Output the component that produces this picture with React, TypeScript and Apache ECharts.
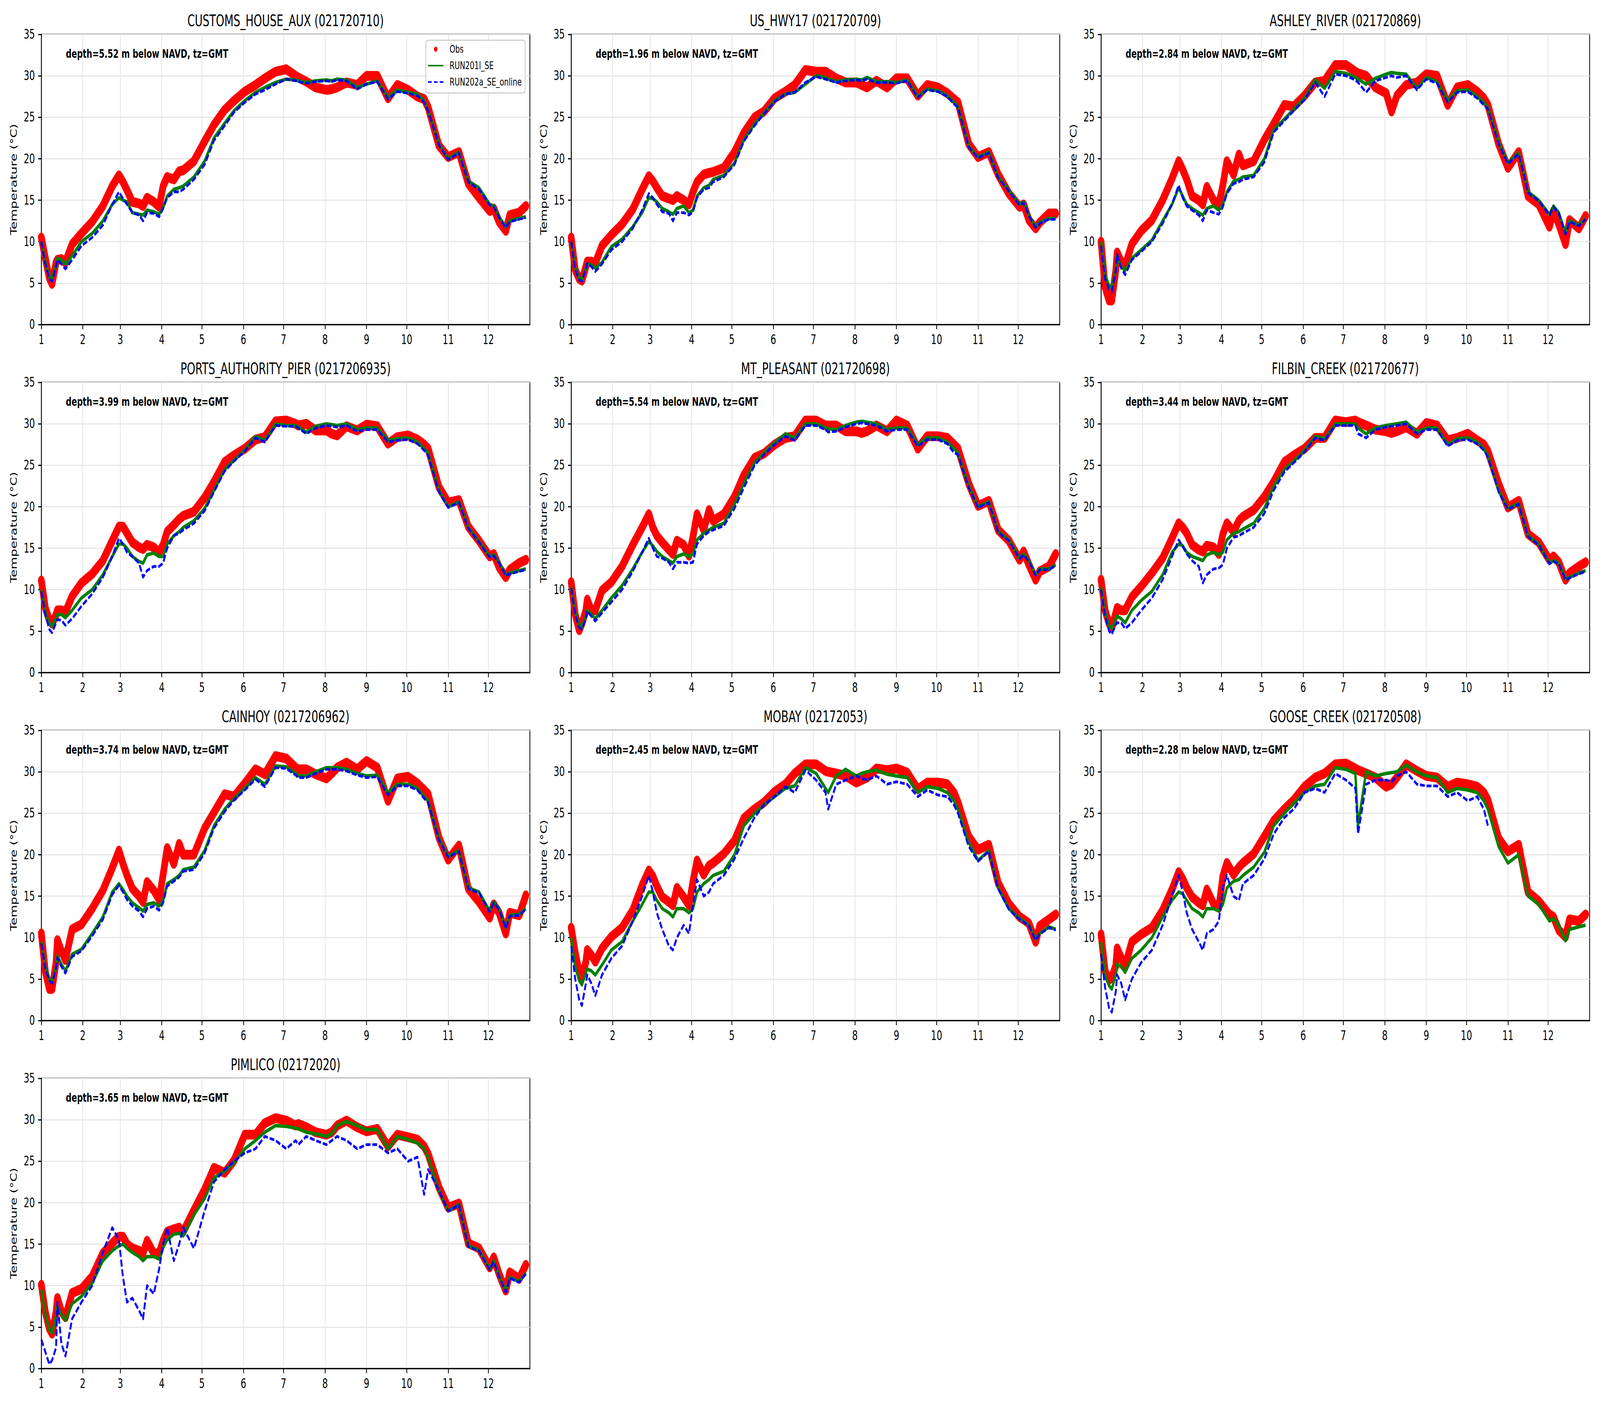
import React, { useEffect, useRef } from "react";
import * as echarts from "echarts";

// Sample positions (day of year, 0 = 1 Jan) shared by every series
const DAY = [0, 3, 6, 8, 11, 12, 15, 18, 23, 30,
  38, 46, 53, 58, 61, 64, 68, 73, 76, 79,
  84, 88, 91, 94, 99, 103, 106, 114, 122, 129,
  137, 144, 152, 160, 167, 175, 183, 190, 192, 198,
  205, 213, 217, 221, 228, 236, 243, 251, 259, 266,
  274, 281, 286, 289, 297, 304, 312, 319, 327, 335,
  338, 342, 347, 350, 357, 362];

// Month tick positions (first day of each month) and labels
const MONTH_START = [0, 31, 59, 90, 120, 151, 181, 212, 243, 273, 304, 334];
const MONTH_LABEL = ["1", "2", "3", "4", "5", "6", "7", "8", "9", "10", "11", "12"];

const STATIONS = [
  "CUSTOMS_HOUSE_AUX (021720710)", "US_HWY17 (021720709)", "ASHLEY_RIVER (021720869)",
  "PORTS_AUTHORITY_PIER (0217206935)", "MT_PLEASANT (021720698)", "FILBIN_CREEK (021720677)",
  "CAINHOY (0217206962)", "MOBAY (02172053)", "GOOSE_CREEK (021720508)", "PIMLICO (02172020)",
];
const DEPTHS = ["5.52", "1.96", "2.84", "3.99", "5.54", "3.44", "3.74", "2.45", "2.28", "3.65"];
const SERIES_NAMES = ["Obs", "RUN201l_SE", "RUN202a_SE_online"];

// ---------- CUSTOMS_HOUSE_AUX ----------
const obsCustoms = [10.5, 8, 5.6, 4.9, 7.5, 7.8, 7.9, 7.5, 9.7, 11,
  12.4, 14.3, 16.7, 18, 17.2, 16.2, 14.8, 14.6, 14.3, 15.3,
  14.8, 14.2, 16.7, 17.8, 17.5, 18.5, 18.6, 19.7, 22.1, 24.1,
  25.9, 27, 28.1, 28.9, 29.7, 30.5, 30.8, 30, 29.8, 29.3,
  28.6, 28.3, 28.4, 28.6, 29.2, 28.9, 30, 30, 27.3, 28.9,
  28.3, 27.5, 27.2, 26.2, 21.6, 20.2, 20.8, 17, 15.3, 13.7,
  14, 12.4, 11.3, 13.2, 13.5, 14.3];
const r201Customs = [10, 7.5, 5.8, 5.5, 7.3, 8, 7.8, 7.3, 8.3, 10,
  11, 12.5, 14.5, 15.3, 15, 14.8, 13.5, 13.3, 13.2, 13.8,
  13.6, 13.3, 14.1, 15.5, 16.3, 16.5, 16.7, 17.8, 19.7, 22.5,
  24.3, 25.8, 27, 28, 28.6, 29.2, 29.6, 29.5, 29.4, 29.2,
  29.4, 29.5, 29.4, 29.6, 29.5, 28.6, 29, 29.4, 27.4, 28.3,
  28, 27.8, 27, 25.8, 21.8, 20, 20.8, 17.3, 16.5, 14.5,
  14.3, 13, 11.8, 12.5, 12.8, 13];
const r202Customs = [10, 7.3, 5.5, 5.2, 7, 7.8, 7.3, 6.7, 7.8, 9.5,
  10.5, 12, 14.5, 16, 15.2, 14.5, 13.5, 13.2, 12.5, 13.5,
  13.4, 13, 14, 15.3, 16, 16, 16.3, 17.5, 19.3, 22.2,
  24, 25.6, 26.8, 27.8, 28.3, 29, 29.6, 29.4, 29.3, 29.1,
  29.3, 29.4, 29.3, 29.5, 29.4, 28.4, 29, 29.3, 27.2, 28.1,
  27.9, 27.6, 26.8, 25.8, 21.7, 19.9, 20.7, 17.2, 16.3, 14.4,
  14.2, 12.9, 11.7, 12.4, 12.7, 12.9];

// ---------- US_HWY17 ----------
const obsHwy17 = [10.5, 6.6, 5.5, 5.3, 7, 7.6, 7.6, 7.4, 9.5, 10.8,
  12.1, 13.9, 16.3, 17.9, 17.3, 16.5, 15.5, 15.2, 15, 15.5,
  15, 14.5, 16, 17.2, 18.1, 18.3, 18.4, 18.9, 20.8, 23.1,
  25, 25.7, 27.3, 28.1, 28.9, 30.7, 30.5, 30.5, 30.3, 29.7,
  29.2, 29.2, 28.9, 28.6, 29.4, 28.6, 29.7, 29.7, 27.6, 28.9,
  28.6, 27.9, 27.2, 26.8, 21.8, 20.2, 20.8, 18.1, 15.8, 14.2,
  14.5, 12.6, 11.6, 12.3, 13.4, 13.4];
const r201Hwy17 = [10, 6.8, 5.6, 5.4, 6.8, 7.3, 7.2, 6.8, 7.5, 9.4,
  10.3, 11.8, 13.5, 15.3, 15.2, 14.8, 14, 13.6, 13.3, 14,
  14.3, 13.5, 13.8, 15.5, 16.5, 16.8, 17.5, 18, 19.5, 22.3,
  24.2, 25.5, 27, 27.8, 28, 29, 30, 29.8, 29.6, 29.3,
  29.5, 29.6, 29.5, 29.8, 29.3, 29.3, 29.2, 29.5, 27.5, 28.4,
  28.2, 27.6, 26.8, 26.3, 21.5, 20.2, 20.8, 17.8, 16.2, 14.5,
  14.8, 13.2, 11.8, 12.3, 12.8, 12.8];
const r202Hwy17 = [10, 6.6, 5.4, 5.2, 6.8, 7.4, 7, 6.4, 7.3, 9,
  10, 11.6, 13.8, 15.8, 15.3, 14.5, 13.6, 13.4, 12.5, 13.5,
  13.5, 13.2, 13.6, 15.3, 16.3, 16.5, 17.2, 17.8, 19.3, 22.1,
  24, 25.4, 26.9, 27.8, 28, 29.2, 29.9, 29.6, 29.5, 29.2,
  29.4, 29.5, 29.4, 29.6, 29.2, 29.2, 29.1, 29.4, 27.4, 28.3,
  28.1, 27.5, 26.6, 26.2, 21.4, 20.1, 20.7, 17.7, 16.1, 14.4,
  14.7, 13.1, 11.7, 12.2, 12.7, 12.7];

// ---------- ASHLEY_RIVER ----------
const obsAshley = [10, 4.5, 2.9, 2.9, 6.5, 8.7, 7.6, 7.1, 9.7, 11.3,
  12.6, 15, 17.6, 19.7, 18.7, 17.5, 15.5, 15, 14.5, 16.6,
  15, 14.5, 16.8, 19.7, 18.1, 20.5, 19.2, 19.7, 22.3, 24.2,
  26.5, 26.3, 27.6, 29.2, 29.4, 31.3, 31.3, 30.5, 30.3, 30,
  28.6, 27.9, 25.7, 27.6, 28.9, 29.2, 30.2, 30, 26.5, 28.6,
  28.9, 28.1, 27.3, 26.5, 21.8, 18.9, 20.8, 15.5, 14.5, 11.8,
  13.7, 12.1, 9.7, 12.6, 11.6, 13.1];
const r201Ashley = [10, 6, 4.7, 4.5, 6.5, 8.2, 7, 6.5, 8, 9,
  10.2, 12.5, 14.5, 16.5, 15.5, 14.5, 14, 13.5, 13.2, 14,
  14.3, 13.8, 14.5, 16, 17.3, 17.5, 17.8, 18, 20, 23.5,
  24.8, 26, 27.3, 29.5, 28.5, 30.5, 30.3, 29.8, 29.6, 29,
  29.7, 30.2, 30.4, 30.3, 30.2, 28.5, 29.8, 29.3, 27, 28.2,
  28.3, 27.5, 26.8, 26.2, 22, 19.5, 20.7, 16, 15, 13.3,
  14.3, 13.5, 11, 12.5, 12, 12.8];
const r202Ashley = [9.5, 5.5, 4.3, 4, 6.5, 8.5, 6.8, 6, 7.8, 8.8,
  10, 12.2, 14.5, 16.8, 15.3, 14.3, 13.8, 13.2, 12.5, 13.8,
  13.5, 13.3, 14.2, 15.8, 17, 17.2, 17.5, 17.8, 19.6, 23.2,
  24.6, 25.8, 27.1, 29.2, 27.5, 30.2, 30, 29.5, 29.2, 28,
  29.4, 29.8, 30, 29.8, 30, 28.3, 29.6, 29.1, 26.8, 28,
  28.1, 27.3, 26.5, 26, 21.8, 19.4, 20.6, 15.9, 14.9, 13.2,
  14.2, 13.4, 10.9, 12.4, 11.9, 12.7];

// ---------- PORTS_AUTHORITY_PIER ----------
const obsPorts = [11.1, 7.8, 6.3, 5.9, 7, 7.5, 7.5, 7.3, 9.2, 10.8,
  11.9, 13.5, 15.9, 17.6, 17.6, 16.8, 15.7, 15.1, 14.9, 15.4,
  15.1, 14.5, 15.4, 17, 17.8, 18.5, 18.9, 19.4, 21.1, 23,
  25.4, 26.2, 27, 28.1, 28.4, 30.3, 30.4, 30, 29.8, 30,
  29.2, 29.2, 28.8, 28.6, 29.7, 29.2, 29.9, 29.7, 27.6, 28.4,
  28.6, 28.1, 27.5, 27, 22.4, 20.5, 20.8, 17.6, 15.9, 14,
  14.3, 12.7, 11.5, 12.4, 13.2, 13.6];
const r201Ports = [10, 7.3, 5.9, 5.6, 6.5, 7, 7, 6.6, 7.5, 9,
  10, 11.8, 14, 15.5, 15.5, 15, 14, 13.4, 13.2, 14.2,
  14.4, 14, 14, 15.5, 16.5, 17, 17.5, 18.3, 19.8, 22,
  24.5, 25.6, 26.8, 28.5, 28, 30, 29.8, 29.8, 29.6, 29,
  29.7, 30, 29.9, 29.8, 30, 29.3, 29.5, 29.5, 28, 28.2,
  28.3, 27.8, 27, 26.5, 22, 20, 20.6, 17.5, 15.8, 14,
  14.2, 13.3, 11.8, 12, 12.3, 12.5];
const r202Ports = [9.8, 7, 5.2, 4.8, 6, 6.4, 6.3, 5.7, 6.5, 8,
  9.5, 11.5, 14, 16.2, 15.5, 14.5, 14, 13.2, 11.5, 12.3,
  12.8, 12.8, 13.2, 15, 16.5, 16.8, 17.2, 18, 19.5, 21.8,
  24.3, 25.5, 26.7, 28.3, 27.8, 29.8, 29.7, 29.7, 29.5, 28.8,
  29.5, 29.8, 29.7, 29.6, 29.8, 29.1, 29.3, 29.3, 27.8, 28,
  28.1, 27.6, 26.8, 26.2, 21.8, 19.9, 20.5, 17.4, 15.7, 13.9,
  14.1, 13.2, 11.7, 11.9, 12.2, 12.4];

// ---------- MT_PLEASANT ----------
const obsPleasant = [10.9, 7, 5.1, 5.9, 7.5, 8.8, 7.5, 7.5, 9.9, 10.9,
  12.8, 15.4, 17.5, 19.1, 17.5, 16.5, 15.7, 14.8, 14.3, 15.9,
  15.4, 14.1, 16.4, 19.1, 17.2, 19.6, 18.3, 19.1, 21.2, 23.8,
  25.9, 26.4, 27.5, 28.3, 28.5, 30.4, 30.4, 29.8, 29.8, 29.8,
  29.1, 29.1, 28.9, 29.1, 29.8, 29.1, 30.4, 29.8, 27, 28.5,
  28.5, 28.3, 27.5, 27, 22.8, 20.1, 20.7, 17.2, 15.9, 13.6,
  14.6, 13, 11.2, 12.2, 12.8, 14.3];
const r201Pleasant = [10.3, 7.2, 5.8, 5.5, 6.8, 7.5, 7, 6.5, 7.5, 9,
  10.5, 12.5, 14.5, 15.8, 15.3, 14.6, 14, 13.5, 13.2, 14,
  14.3, 14, 14.3, 16, 16.8, 17.2, 17.5, 18, 20.3, 22.8,
  25.3, 26.5, 27.7, 28.8, 28.3, 30, 30, 29.5, 29.4, 29.3,
  29.8, 30.2, 30.3, 30.2, 30, 29.3, 29.5, 29.5, 27.5, 28.3,
  28.3, 27.8, 27, 26.5, 22.5, 20, 20.6, 17, 16, 13.8,
  14.3, 13.5, 11.8, 12.5, 12.5, 13];
const r202Pleasant = [10.2, 7, 5.4, 5.2, 6.6, 7.4, 6.8, 6.2, 7.2, 8.5,
  10, 12.2, 14.5, 16.2, 15, 14, 13.8, 13.3, 12.5, 13.3,
  13.3, 13.2, 13.3, 15.5, 16.5, 17, 17.2, 17.7, 19.8, 22.3,
  25, 26.3, 27.5, 28.5, 28, 29.8, 29.8, 29.3, 29, 29.1,
  29.6, 30, 30.1, 30, 29.8, 29.1, 29.3, 29.3, 27.3, 28.1,
  28.1, 27.6, 26.5, 26.3, 22.3, 19.9, 20.5, 16.9, 15.9, 13.7,
  14.2, 13.4, 11.7, 12.4, 12.4, 12.9];

// ---------- FILBIN_CREEK ----------
const obsFilbin = [11.2, 7.5, 5.9, 5.4, 7.2, 7.8, 7.5, 7.5, 9.1, 10.4,
  12, 13.8, 16.2, 18, 17.5, 16.8, 15.4, 14.8, 14.6, 15.3,
  15.1, 14.3, 16.7, 18, 17, 18.3, 18.8, 19.6, 21.2, 23,
  25.4, 26.2, 27, 28.3, 28.3, 30.4, 30.2, 30.4, 30.2, 29.8,
  29.3, 29.1, 28.9, 29.1, 29.6, 28.8, 30.1, 29.8, 28, 28.3,
  28.8, 28, 27.5, 26.7, 22.8, 19.9, 20.7, 16.7, 15.7, 13.6,
  14, 13.3, 11.2, 12, 12.8, 13.3];
const r201Filbin = [10.3, 7.3, 5.6, 5.3, 6.5, 6.8, 6.5, 6, 7.5, 8.7,
  9.8, 11.8, 14.5, 15.5, 15.3, 14.5, 14, 13.7, 13.5, 14.2,
  14.5, 14.2, 14.5, 16, 16.8, 17, 17.3, 18, 19.8, 22.5,
  24.5, 25.5, 26.8, 28.5, 28.2, 30, 30, 30, 29.5, 28.8,
  29.5, 29.8, 29.9, 30, 30.2, 29, 29.5, 29.5, 27.5, 28.2,
  28.3, 27.8, 27, 26.2, 22, 19.8, 20.4, 16.5, 15.5, 13.2,
  13.5, 13.2, 11.3, 11.5, 12, 12.3];
const r202Filbin = [10, 6.8, 5, 4.6, 5.8, 6, 6, 5.3, 6, 7.5,
  9, 11.2, 14, 16, 15.2, 14.3, 13.5, 12.8, 10.8, 11.8,
  12.5, 12.6, 13, 15, 16.3, 16.5, 16.8, 17.5, 19.2, 22,
  24.2, 25.3, 26.6, 28.3, 28, 29.8, 29.8, 29.8, 28.8, 28.3,
  29.3, 29.6, 29.7, 29.8, 30, 28.8, 29.3, 29.3, 27.3, 28,
  28.1, 27.6, 26.8, 26, 21.8, 19.7, 20.3, 16.4, 15.4, 13.1,
  13.4, 13.1, 11.2, 11.4, 11.9, 12.2];

// ---------- CAINHOY ----------
const obsCainhoy = [10.5, 5.9, 3.8, 3.8, 7, 9.7, 8.4, 7.3, 11, 11.6,
  13.5, 15.7, 18.4, 20.5, 18.9, 17.5, 15.9, 15, 14.3, 16.7,
  15.7, 14.6, 17.6, 20.8, 18.9, 21.3, 20, 20, 23.2, 25.1,
  27.3, 27, 28.6, 30.3, 29.7, 31.9, 31.6, 30.5, 30.3, 30.3,
  29.7, 29.2, 29.8, 30.5, 31.1, 30.3, 31.3, 30.5, 26.5, 29.2,
  29.4, 28.6, 27.8, 27.3, 22.1, 19.4, 21.1, 15.9, 14.3, 12.4,
  14, 13, 10.5, 13, 12.7, 15.1];
const r201Cainhoy = [9.5, 6.5, 5, 4.6, 6.5, 7.8, 6.8, 6, 8, 8.6,
  10.5, 12.5, 15.5, 16.5, 15.8, 15, 14.2, 13.6, 13.2, 14,
  14.2, 13.8, 14.5, 16.5, 17, 17.5, 18.2, 18.5, 20.5, 23.5,
  25.5, 26.8, 28, 29.3, 28.5, 30.7, 30.6, 29.8, 29.5, 29.5,
  30, 30.5, 30.5, 30.5, 30.3, 29.8, 29.5, 29.6, 27.5, 28.5,
  28.5, 28, 27, 26.5, 22, 19.8, 20.5, 16, 15.5, 13.2,
  14.3, 13.5, 11.2, 12.7, 12.8, 13.5];
const r202Cainhoy = [9.3, 6.2, 4.8, 4.5, 6.3, 7.6, 6.5, 5.7, 7.7, 8.4,
  10.2, 12.2, 15.2, 16.3, 15.5, 14.6, 13.8, 13.2, 12.5, 13.5,
  13.8, 13.3, 14.2, 16.2, 16.8, 17.3, 18, 18.2, 20.2, 23.2,
  25.2, 26.6, 27.8, 29.1, 28.2, 30.5, 30.4, 29.6, 29.3, 29.3,
  29.8, 30.3, 30.3, 30.3, 30.1, 29.6, 29.3, 29.4, 27.2, 28.3,
  28.3, 27.8, 26.8, 26.3, 21.8, 19.7, 20.4, 15.9, 15.4, 13.1,
  14.2, 13.4, 11.1, 12.6, 12.7, 13.4];

// ---------- MOBAY ----------
const obsMobay = [11.2, 8.2, 5.8, 5.2, 7.1, 8.5, 7.9, 7.1, 8.7, 10.1,
  11.2, 13.3, 16.3, 18.1, 17.4, 16.2, 14.9, 14.3, 13.9, 16,
  14.9, 13.9, 16.8, 19.3, 17.6, 18.7, 19, 20.1, 21.7, 24.4,
  25.5, 26.3, 27.6, 28.5, 29.8, 30.9, 30.9, 30.1, 30, 29.8,
  29.5, 28.7, 29, 29.3, 30.4, 30.2, 30.4, 29.9, 27.9, 28.7,
  28.7, 28.5, 27.5, 26.3, 22.2, 20.6, 21.2, 16.6, 14.1, 12.5,
  12.2, 11.7, 9.5, 11.4, 12.2, 12.8];
const r201Mobay = [10, 6.5, 4.8, 4.3, 5.8, 6.2, 6, 5.5, 6.7, 8.5,
  9.5, 12, 14, 15.5, 15.5, 14.5, 13.5, 13, 12.5, 13.5,
  13.5, 13, 13.5, 15.5, 16.5, 17, 17.5, 18, 20, 23.5,
  25, 26, 27, 28, 28.3, 30.5, 29.8, 28, 27.5, 29.5,
  30.3, 29.5, 29.8, 30, 30.2, 29.7, 29.5, 29.3, 27.5, 28.2,
  28, 27.5, 26.5, 25.5, 21.5, 19.3, 20.5, 16, 13.5, 12.3,
  12, 11.5, 9.8, 10.5, 11.3, 11];
const r202Mobay = [9, 5, 2.5, 1.8, 4.5, 5.5, 4.5, 3, 5.5, 7.5,
  9, 12, 15, 17.5, 15.5, 13, 11, 9, 8.5, 10,
  11.5, 10.5, 14, 17, 15, 15.5, 16.5, 17.5, 19.5, 22,
  24.5, 26, 27, 28.2, 27.5, 30.2, 29, 27.5, 25.5, 28.5,
  29, 29.5, 29.2, 29, 29.5, 28.5, 28.8, 28.5, 27, 27.8,
  27.2, 27, 26, 25, 21, 19.2, 20.4, 15.9, 13.4, 12.2,
  11.9, 11.4, 9.7, 10.4, 11.2, 10.9];

// ---------- GOOSE_CREEK ----------
const obsGoose = [10.4, 6, 4.9, 5.2, 6.6, 8.7, 7.6, 6.6, 9.5, 10.4,
  11.2, 13.3, 15.8, 17.9, 17.1, 16, 14.9, 14.2, 13.9, 15.8,
  14.1, 13.6, 17.4, 19, 17.6, 18.5, 19, 20.1, 22.2, 24.1,
  25.5, 26.6, 28.2, 29.3, 29.8, 30.9, 31, 30.4, 30.2, 29.8,
  29.3, 28.2, 28.5, 29.3, 30.9, 30.1, 29.5, 29.3, 28.2, 28.7,
  28.5, 28.2, 27.5, 26.6, 22, 20.4, 21.2, 15.5, 14.4, 12.8,
  12.5, 10.9, 10.1, 12.2, 12, 12.8];
const r201Goose = [9.5, 5.5, 4.2, 3.8, 5.5, 6.8, 6.5, 5.8, 7.5, 8.5,
  10, 12.5, 14.5, 15.5, 15.3, 14.5, 13.5, 13, 12.5, 13.5,
  13.5, 13.2, 14, 16, 16.8, 17, 17.5, 18.5, 20.3, 23.5,
  25, 26.2, 27.5, 28.3, 28.5, 30.5, 30.3, 29.8, 23.5, 30,
  29.5, 29.8, 29.9, 30, 30.8, 30, 29.5, 29.3, 27.5, 28,
  27.8, 27.5, 26.5, 25.5, 21, 19, 20, 15, 14, 12,
  12.3, 11.5, 9.6, 11, 11.3, 11.5];
const r202Goose = [8, 4, 1.5, 1, 3.5, 5.5, 4.5, 2.5, 5, 7,
  8.5, 11.5, 15, 17.5, 15.5, 13, 11, 9.5, 8.5, 10.5,
  11, 12, 16, 17.5, 15, 14.5, 16.5, 17.5, 19.5, 22.5,
  24.5, 25.5, 27.5, 28, 27.5, 29.8, 29, 28, 22.5, 28.5,
  29, 29, 28.8, 29.5, 30, 28.5, 28.3, 28.3, 27, 27.5,
  26.5, 27, 25.5, 23.5, null, null, null, null, null, null,
  null, null, null, null, null, null];

// ---------- PIMLICO ----------
const obsPimlico = [10.1, 6.8, 4.8, 4.2, 6.8, 8.5, 6.9, 6.2, 9.1, 9.6,
  11.1, 13.9, 15.1, 15.9, 15.9, 15, 14.5, 14.2, 13.9, 15.4,
  13.9, 13.9, 15.4, 16.5, 16.8, 17, 16.5, 19.1, 21.6, 24.2,
  23.6, 25.1, 28.2, 28.2, 29.6, 30.2, 29.9, 29.3, 29.5, 29.1,
  28.5, 28.2, 28.5, 29.3, 29.9, 29.1, 28.6, 28.9, 26.8, 28.2,
  27.9, 27.6, 26.8, 25.9, 21.9, 19.4, 19.9, 15.1, 14.5, 12.2,
  13.4, 11.4, 9.4, 11.6, 10.8, 12.5];
const r201Pimlico = [9.5, 6.5, 4.7, 4.3, 6.3, 7.5, 6.5, 5.8, 7.8, 8.7,
  10.3, 13, 14.2, 14.8, 15, 14.5, 14, 13.5, 13, 13.5,
  13.5, 13.2, 14.6, 15.5, 16.2, 16.3, 16, 18.5, 20.5, 23,
  23.8, 24.8, 26.5, 27.5, 28.5, 29.3, 29.2, 29, 28.9, 28.5,
  28.3, 28, 28.3, 29.3, 29.8, 29.3, 28.8, 28.8, 26.5, 28,
  27.6, 27.2, 26.5, 25.5, 21.5, 19, 19.8, 14.8, 14.3, 12,
  13, 11.2, 9.3, 11, 10.5, 11.5];
const r202Pimlico = [3.5, 2, 0.5, 1, 2.5, 8, 3, 1.5, 6, 8,
  10, 14, 17, 15.5, 11, 8, 8.5, 7, 6, 10,
  9, 12, 15, 17, 13, 15, 17, 14.5, 19, 22.5,
  24, 25, 26, 26.5, 28, 27.5, 26.5, 27.5, 27, 28,
  27.5, 27, 27.5, 28, 27.5, 26.5, 27, 27, 26, 26.5,
  25, 25.5, 21, 24, 21.5, 19, 19.7, 14.7, 14.2, 11.9,
  12.9, 11.1, 9.2, 10.9, 10.4, 11.4];

const OBS = [obsCustoms, obsHwy17, obsAshley, obsPorts, obsPleasant, obsFilbin, obsCainhoy, obsMobay, obsGoose, obsPimlico];
const RUN201 = [r201Customs, r201Hwy17, r201Ashley, r201Ports, r201Pleasant, r201Filbin, r201Cainhoy, r201Mobay, r201Goose, r201Pimlico];
const RUN202 = [r202Customs, r202Hwy17, r202Ashley, r202Ports, r202Pleasant, r202Filbin, r202Cainhoy, r202Mobay, r202Goose, r202Pimlico];

// Layout (pixels, in the 6000 x 3600 design frame)
const W = 6000;
const H = 3600;
const COL_LEFT = [155, 2142, 4129];
const ROW_TOP = [88, 979, 1870, 2761];
const GRID_W = 1832;
const GRID_H = 743;
const FONT = "DejaVu Sans";

function buildOption() {
  const grid: any[] = [];
  const xAxis: any[] = [];
  const yAxis: any[] = [];
  const series: any[] = [];
  const graphic: any[] = [];

  STATIONS.forEach((title, i) => {
    const left = COL_LEFT[i % 3];
    const top = ROW_TOP[Math.floor(i / 3)];
    grid.push({
      left, top, width: GRID_W, height: GRID_H,
      show: true, borderColor: "#000", borderWidth: 3, backgroundColor: "#fff",
    });
    xAxis.push({
      type: "value", gridIndex: i, min: 0, max: 365,
      axisLine: { show: true, onZero: false, lineStyle: { color: "#000", width: 3 } },
      axisTick: { show: true, length: 12, lineStyle: { color: "#000", width: 3 }, customValues: MONTH_START },
      axisLabel: {
        customValues: MONTH_START, margin: 22, fontSize: 33, fontFamily: FONT, color: "#000",
        formatter: (v: number) => MONTH_LABEL[MONTH_START.indexOf(Math.round(v))] ?? "",
      },
      splitLine: { show: true, lineStyle: { color: "#e6e6e6", width: 3 } },
    });
    yAxis.push({
      type: "value", gridIndex: i, min: 0, max: 35, interval: 5,
      name: "Temperature (°C)", nameLocation: "middle", nameGap: 86,
      nameTextStyle: { fontSize: 33, fontFamily: FONT, color: "#000" },
      axisLine: { show: true, onZero: false, lineStyle: { color: "#000", width: 3 } },
      axisTick: { show: true, length: 12, lineStyle: { color: "#000", width: 3 } },
      axisLabel: { margin: 24, fontSize: 33, fontFamily: FONT, color: "#000" },
      splitLine: { show: true, lineStyle: { color: "#e6e6e6", width: 3 } },
    });
    const toPts = (arr: (number | null)[]) => DAY.map((d, k) => [d, arr[k]]);
    series.push({
      type: "line", name: SERIES_NAMES[0], xAxisIndex: i, yAxisIndex: i,
      data: toPts(OBS[i]), symbol: "none", showSymbol: false, connectNulls: true,
      color: "#ff0000", itemStyle: { color: "#ff0000" },
      lineStyle: { color: "#ff0000", width: 25, cap: "round", join: "round" }, z: 2,
    });
    series.push({
      type: "line", name: SERIES_NAMES[1], xAxisIndex: i, yAxisIndex: i,
      data: toPts(RUN201[i]), symbol: "none", showSymbol: false, connectNulls: true,
      color: "#008000", itemStyle: { color: "#008000" },
      lineStyle: { color: "#008000", width: 9, join: "round" }, z: 3,
    });
    series.push({
      type: "line", name: SERIES_NAMES[2], xAxisIndex: i, yAxisIndex: i,
      data: toPts(RUN202[i]), symbol: "none", showSymbol: false, connectNulls: false,
      color: "#0000ff", itemStyle: { color: "#0000ff" },
      lineStyle: { color: "#0000ff", width: 7, type: [18, 7], join: "round" }, z: 4,
    });
    graphic.push({
      type: "text", x: left + GRID_W / 2, y: top - 35, z: 10,
      style: { text: title, fontSize: 40, fontFamily: FONT, fill: "#000", align: "center", verticalAlign: "middle" },
    });
    graphic.push({
      type: "text", x: left + 92, y: top + 49, z: 10,
      style: {
        text: `depth=${DEPTHS[i]} m below NAVD, tz=GMT`, fontSize: 30, fontWeight: "bold",
        fontFamily: FONT, fill: "#000", align: "left", verticalAlign: "middle",
      },
    });
  });

  return {
    animation: false,
    backgroundColor: "#fff",
    grid, xAxis, yAxis, series, graphic,
    legend: {
      left: 1597, top: 103, orient: "vertical", selectedMode: false,
      data: [
        { name: "Obs", icon: "circle" },
        { name: "RUN201l_SE", icon: "path://M0,0H58V4H0Z" },
        { name: "RUN202a_SE_online", icon: "path://M0,0H13V4H0Z M21,0H34V4H21Z M42,0H55V4H42Z" },
      ],
      itemWidth: 58, itemHeight: 13, itemGap: 12,
      padding: [8, 13, 13, 8],
      backgroundColor: "rgba(255,255,255,0.8)", borderColor: "#cccccc", borderWidth: 3, borderRadius: 8,
      itemStyle: { borderWidth: 0 },
      textStyle: { fontSize: 27, fontFamily: FONT, color: "#000", lineHeight: 30, padding: [0, 0, 0, 18] },
      z: 20,
    },
  };
}

export default function App() {
  const ref = useRef<HTMLDivElement>(null);
  // The browser viewport may be narrower than the 6000 px design frame; fit the frame to it.
  const sx = typeof window !== "undefined" && window.innerWidth ? Math.min(1, window.innerWidth / W) : 1;
  const sy = typeof window !== "undefined" && window.innerHeight ? Math.min(1, window.innerHeight / H) : 1;
  useEffect(() => {
    document.body.style.margin = "0";
    document.body.style.overflow = "hidden";
    if (!ref.current) return;
    const chart = echarts.init(ref.current, undefined, { renderer: "svg" });
    chart.setOption(buildOption() as any);
    return () => chart.dispose();
  }, []);
  return (
    <div
      ref={ref}
      style={{
        position: "absolute", left: 0, top: 0, width: W, height: H,
        transform: `scale(${sx}, ${sy})`, transformOrigin: "0 0",
      }}
    />
  );
}
